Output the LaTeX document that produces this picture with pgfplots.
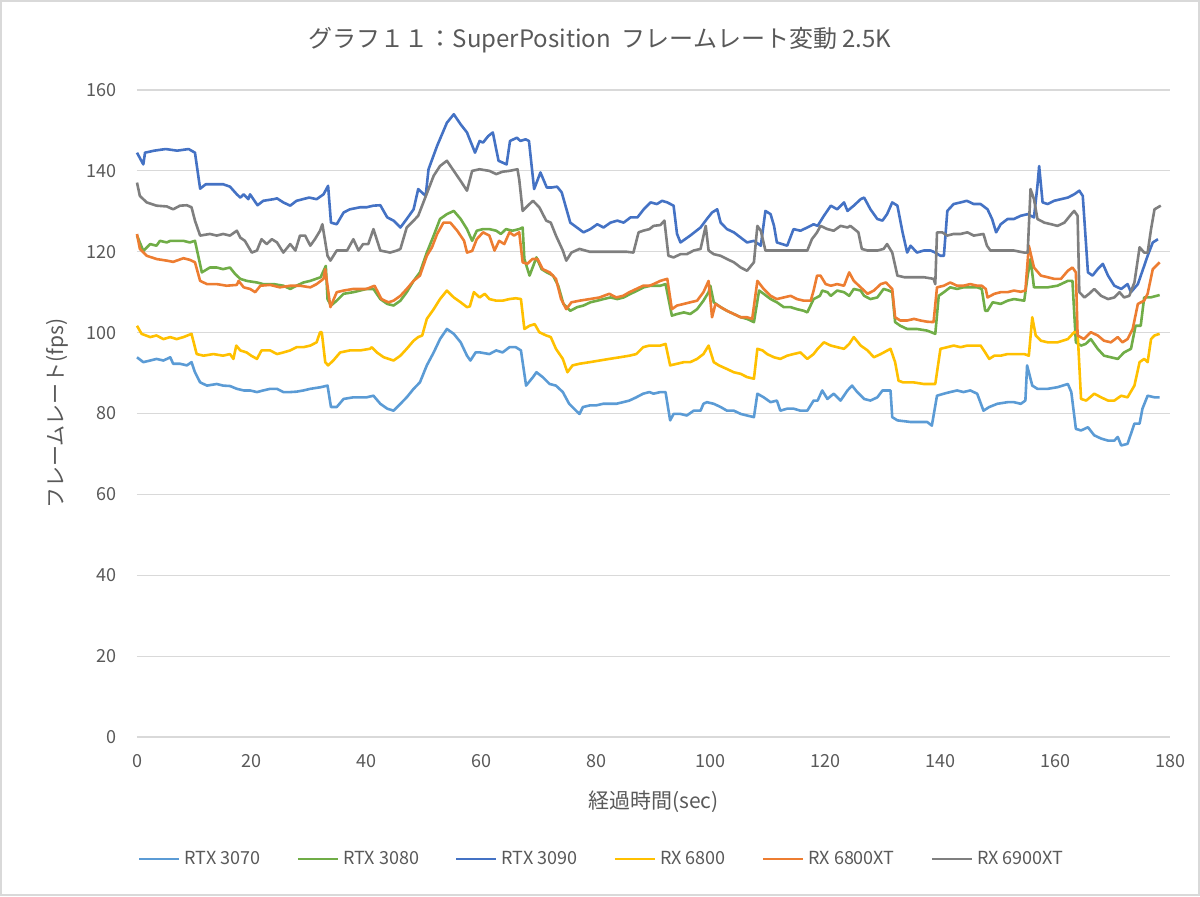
\documentclass[border=0pt]{standalone}
\usepackage{pgfplots}
\pgfplotsset{compat=1.18}
\usepackage{fontspec}
\setmainfont{Noto Sans CJK JP}
\definecolor{c3070}{HTML}{5B9BD5}
\definecolor{c3080}{HTML}{70AD47}
\definecolor{c3090}{HTML}{4472C4}
\definecolor{c6800}{HTML}{FFC000}
\definecolor{c6800xt}{HTML}{ED7D31}
\definecolor{c6900xt}{HTML}{7F7F7F}
\definecolor{txt}{HTML}{595959}
\definecolor{gridc}{HTML}{D9D9D9}
\begin{document}
\begin{tikzpicture}
\draw[gridc, line width=0.8pt] (0.4pt,0.4pt) rectangle (599.6pt,447.6pt);
\node[text=txt, font=\fontsize{12}{14}\selectfont] at (300pt,428pt) {グラフ１１：SuperPosition\ \ フレームレート変動 2.5K};
\begin{axis}[
  at={(68.5pt,79.5pt)}, anchor=south west, scale only axis,
  width=516.5pt, height=323.5pt,
  xmin=0, xmax=180, ymin=0, ymax=160,
  xtick={0,20,...,180}, ytick={0,20,...,160},
  ymajorgrids, major grid style={gridc, line width=0.6pt},
  axis line style={draw=none}, tick style={draw=none}, major tick length=0pt,
  /pgf/number format/assume math mode=true,
  ticklabel style={font=\fontsize{9}{11}\selectfont, text=txt},
  xticklabel style={yshift=-5pt},
  yticklabel style={xshift=-6.5pt},
  xlabel={経過時間(sec)}, ylabel={フレームレート(fps)},
  label style={font=\fontsize{10.5}{12}\selectfont, text=txt},
  xlabel style={at={(axis description cs:0.5,-0.1005)}, anchor=center},
  ylabel style={at={(axis description cs:-0.077,0.5)}, anchor=center, rotate=0},
  legend columns=6,
  legend style={at={(axis description cs:0.451,-0.1886)}, anchor=center, draw=none, fill=none,
    font=\fontsize{9}{11}\selectfont, text=txt,
    /tikz/every even column/.append style={column sep=16pt}},
  legend image code/.code={\draw[#1] (0pt,0pt) -- (20pt,0pt);},
  every axis plot/.append style={line width=1.3pt, line join=round},
  clip=false,
]
\addplot[c3070] coordinates {(0,93.9) (1.1,92.7) (2.3,93.1) (3.4,93.5) (4.6,93.1) (5.8,93.9) (6.3,92.3) (7.5,92.3) (8.7,91.9) (9.5,92.7) (10.1,90.2) (11,87.7) (12.2,86.9) (13.9,87.3) (15,86.9) (16.2,86.8) (17.4,86.1) (18.6,85.7) (19.7,85.7) (20.9,85.3) (22,85.7) (23.2,86.1) (24.4,86.1) (25.5,85.3) (26.7,85.3) (27.8,85.4) (29,85.7) (30.2,86.1) (32,86.5) (33.2,86.9) (33.8,81.6) (34.8,81.6) (36,83.6) (37.7,84.0) (40,84.0) (41.2,84.4) (42.4,82.4) (43.6,81.2) (44.7,80.7) (45.9,82.4) (47,84.0) (48.2,86.1) (49.3,87.7) (50.5,91.9) (51.7,95.1) (52.8,98.4) (54,100.9) (55.2,99.7) (56.4,97.6) (57.5,94.3) (58.1,93.1) (59,95.1) (59.8,95.1) (61.4,94.7) (62.6,95.6) (63.7,95.1) (64.9,96.4) (66,96.4) (66.9,95.6) (67.8,86.9) (69,89.0) (69.6,90.2) (70.7,89.0) (71.9,87.3) (73,86.9) (74.2,85.3) (75.3,82.4) (76.5,80.7) (77.1,79.9) (77.7,81.6) (78.9,82.0) (80,82.0) (81.2,82.4) (82.3,82.4) (83.5,82.4) (84.7,82.8) (85.8,83.2) (87,84.0) (88.2,84.9) (89.3,85.3) (90,84.9) (91.2,85.3) (92.1,85.3) (92.9,78.3) (93.5,79.9) (94.7,79.9) (95.8,79.5) (97,80.7) (98.2,80.7) (98.7,82.4) (99.3,82.8) (100.5,82.4) (101.7,81.6) (102.8,80.7) (104,80.7) (105.2,79.9) (106.3,79.5) (107.5,79.1) (108.1,84.9) (109.2,84.0) (110.4,82.8) (111.5,83.2) (112.1,80.7) (113.3,81.2) (114.4,81.2) (115.6,80.7) (116.8,80.7) (117.9,83.2) (118.6,83.2) (119.4,85.7) (120.3,83.6) (121.4,84.9) (122.6,83.2) (123.8,85.7) (124.6,86.9) (125.5,85.3) (126.7,83.6) (127.8,83.2) (129,84.0) (129.9,85.7) (131.3,85.7) (131.6,79.1) (132.5,78.3) (134.8,77.9) (136.5,77.9) (137.7,77.9) (138.5,77.0) (139.4,84.4) (140.6,84.9) (141.7,85.3) (142.9,85.7) (144,85.3) (145.2,85.7) (146.4,84.9) (147.5,80.7) (148.5,81.6) (149.9,82.4) (151.7,82.8) (152.8,82.8) (154,82.4) (154.8,83.2) (155.1,91.9) (156,86.9) (156.9,86.1) (158.7,86.1) (160.4,86.5) (162.2,87.3) (162.8,85.3) (163.6,76.2) (164.5,75.8) (165.7,76.6) (166.8,74.6) (168,73.8) (169.2,73.3) (170.3,73.3) (170.9,74.2) (171.5,72.1) (172.6,72.5) (173.8,77.5) (174.7,77.5) (175.2,81.2) (176.1,84.4) (177.3,84.0) (178.2,84.0)};
\addlegendentry{RTX 3070}
\addplot[c3080] coordinates {(0,124.0) (1.1,120.2) (2.3,121.9) (3.4,121.5) (4,122.7) (5.2,122.3) (5.8,122.7) (6.9,122.7) (8.1,122.7) (9.2,122.3) (10.1,122.7) (11.3,114.9) (12.7,116.1) (13.9,116.1) (15,115.7) (16.2,116.1) (17.1,114.5) (18,113.3) (19.1,112.8) (20.9,112.4) (22,112.0) (23.8,112.0) (25.5,111.6) (26.7,110.8) (27.8,111.6) (29,112.4) (30.2,112.8) (32,113.7) (32.9,116.5) (33.2,108.3) (33.8,106.7) (34.8,107.9) (36,109.6) (37.7,110.0) (40,110.8) (41.2,110.8) (42.4,108.3) (43.6,107.1) (44.7,106.7) (45.9,107.9) (47,110.0) (48.2,112.8) (49.3,114.9) (50.5,119.8) (51.7,124.0) (52.8,128.1) (54,129.3) (55.2,130.1) (56.4,128.1) (57.5,125.6) (58.4,122.7) (59.2,125.2) (60.3,125.6) (61.4,125.6) (62.6,125.2) (63.4,124.4) (64.3,125.6) (65.4,125.2) (66.6,125.6) (67.2,126.0) (67.5,118.2) (68.4,114.1) (69.6,118.6) (70.5,115.7) (71.4,114.9) (72.5,114.1) (73.4,111.6) (74.3,107.1) (75.5,105.4) (76.7,106.3) (77.8,106.7) (79,107.5) (80.2,107.9) (81.3,108.3) (82.5,108.7) (83.7,108.3) (84.8,108.7) (86,109.6) (87.2,110.4) (88.3,111.2) (89.5,111.6) (90,111.6) (91.2,111.6) (92.1,112.0) (93.2,104.2) (94.1,104.6) (95.3,105.0) (96.4,104.6) (97.6,105.8) (98.7,107.9) (99.6,110.0) (99.9,111.6) (100.5,107.5) (101.7,106.3) (102.8,105.4) (104,104.6) (105.2,103.8) (106.3,103.4) (107.5,102.6) (108.4,110.4) (109.2,109.6) (110.4,108.3) (111.5,107.5) (112.7,106.3) (113.9,106.3) (115,105.8) (116.2,105.4) (116.8,105.0) (117.9,108.3) (119,109.1) (119.4,110.4) (120.3,110.0) (120.9,109.1) (122,110.4) (123.2,110.0) (124.1,109.1) (124.9,110.8) (126.1,110.4) (126.7,109.1) (127.8,108.3) (129,108.7) (130.1,110.8) (131,110.4) (131.6,110.0) (132.1,102.6) (133,101.7) (134.2,100.9) (135.9,100.9) (137.7,100.5) (139.1,99.7) (139.7,109.1) (140.6,110.0) (141.7,111.2) (142.9,110.8) (144,111.2) (145.2,111.2) (146.4,111.2) (147.2,110.8) (147.8,105.4) (148.2,105.4) (149.1,107.5) (150.5,107.1) (151.7,107.9) (152.8,108.3) (154.6,107.9) (155.2,114.1) (155.7,118.2) (156.3,111.2) (157.5,111.2) (158.7,111.2) (160.4,111.6) (162.2,112.8) (163,112.8) (163.6,97.6) (164.5,96.8) (165.3,97.2) (166.2,98.4) (167.4,96.0) (168.5,94.3) (169.7,93.9) (170.9,93.5) (172,95.1) (173.2,96.0) (174,101.7) (174.9,101.7) (175.5,108.7) (176.6,108.7) (178.2,109.3)};
\addlegendentry{RTX 3080}
\addplot[c3090] coordinates {(0,144.5) (1.1,141.6) (1.4,144.5) (3,145.0) (5,145.4) (7,145.0) (9,145.4) (10.1,144.5) (11,135.6) (12,136.7) (15,136.7) (16.2,136.1) (17.4,134.2) (18,133.4) (18.6,134.2) (19.4,133.0) (19.7,134.2) (21,131.5) (22,132.6) (23.8,133.0) (24.4,133.2) (25.5,132.2) (26.7,131.4) (27.8,132.6) (30,133.4) (31.3,133.0) (32.5,134.2) (33.3,136.3) (33.8,127.2) (34.8,126.8) (36,129.7) (37.1,130.5) (38.9,131.0) (40,131.0) (41.2,131.4) (42.4,131.5) (43.6,128.5) (44.7,127.7) (45.9,126.0) (47,128.1) (48.2,130.5) (49,135.5) (50.3,133.8) (50.8,140.4) (52.3,146.2) (54,151.9) (55.2,154.0) (56.4,151.5) (57.5,149.5) (58.9,144.5) (59.7,147.4) (60.3,147.0) (61.2,148.6) (62,149.5) (63,142.5) (64.4,141.6) (65,147.4) (66.2,148.2) (66.8,147.4) (67.7,147.8) (68.3,147.4) (69.2,135.5) (70.3,139.6) (71.4,135.9) (72.3,135.9) (73.2,136.1) (74,134.7) (75.5,127.2) (77.8,124.8) (79,125.6) (80.2,126.8) (81.3,126.0) (82.5,127.2) (83.7,127.7) (84.8,127.2) (86,128.5) (87.2,128.5) (88.3,130.5) (89.5,132.2) (90.6,131.8) (91.5,132.6) (92.4,132.2) (93.5,131.4) (94.1,124.4) (94.7,122.3) (96.4,124.0) (98.2,126.0) (99.3,128.1) (100.2,129.7) (101.1,130.5) (101.7,127.2) (102.8,125.6) (104,124.8) (105.2,123.5) (106.3,122.3) (107.5,122.7) (108.7,121.5) (109.5,130.1) (110.4,129.3) (111,126.4) (111.5,122.3) (113.3,121.5) (114.4,125.6) (115.6,125.2) (116.8,126.0) (117.9,126.8) (118.6,126.4) (119.7,128.9) (120.9,131.4) (122,130.5) (123.2,132.2) (123.8,130.1) (124.9,131.4) (126.1,133.0) (126.7,133.4) (127.8,130.5) (129,128.1) (129.9,127.7) (130.7,129.3) (131.6,132.2) (132.5,131.4) (133.4,124.8) (134.2,119.8) (134.8,121.5) (135.9,119.8) (137.1,120.3) (138.3,120.3) (139.1,119.8) (140,119.0) (140.6,119.0) (141.2,130.1) (142.3,131.8) (143.5,132.2) (144.6,132.6) (145.8,131.8) (147,131.8) (148.2,130.5) (149,128.1) (149.7,124.8) (150.5,126.8) (151.7,128.1) (152.8,128.1) (154,128.9) (155.2,129.3) (156.3,128.5) (156.9,136.3) (157.2,141.2) (157.8,132.2) (158.7,131.8) (159.8,132.6) (161,133.0) (162.2,133.4) (163.3,134.2) (164.2,135.1) (164.8,133.8) (165.7,114.9) (166.5,114.1) (167.4,115.7) (168.3,117.0) (169.2,114.1) (170.3,111.6) (171.5,110.8) (172.6,112.0) (173.2,110.0) (174.4,112.0) (175.5,116.5) (176.1,119.0) (177,122.3) (177.9,123.1)};
\addlegendentry{RTX 3090}
\addplot[c6800] coordinates {(0,101.7) (0.8,99.7) (2.3,98.9) (3.4,99.3) (4.6,98.4) (5.8,98.9) (6.9,98.4) (8.1,98.9) (9.5,99.7) (10.4,94.7) (11.6,94.3) (13.3,94.7) (15,94.3) (16.2,94.7) (16.8,93.5) (17.3,96.8) (18,95.6) (19.1,95.1) (19.9,94.3) (20.9,93.5) (21.7,95.6) (23.2,95.6) (24.4,94.7) (25.5,95.1) (26.7,95.6) (27.8,96.4) (29,96.4) (30.2,96.8) (31.3,97.6) (31.9,100.1) (32.2,100.1) (32.8,92.7) (33.3,91.9) (34.2,93.1) (35.4,95.1) (37.1,95.6) (38.9,95.6) (40.6,96.0) (40.9,96.4) (41.8,95.1) (43,93.9) (44.7,93.1) (45.9,94.3) (47,96.0) (48.2,98.0) (49,98.9) (49.7,99.3) (50.5,103.4) (51.7,105.8) (52.8,108.3) (54,110.4) (55.2,108.7) (56.4,107.5) (57.5,106.3) (58.0,106.5) (58.7,110.0) (59.7,108.7) (60.6,109.6) (61.4,108.3) (62.6,107.9) (63.7,107.9) (64.9,108.3) (66,108.5) (66.9,108.3) (67.5,100.9) (68.4,101.7) (69.3,102.1) (70.1,100.1) (71.3,99.3) (72.1,98.9) (73,96.0) (74.2,93.5) (75,90.2) (75.9,91.9) (77.1,92.3) (78.9,92.7) (80.6,93.1) (82.3,93.5) (84.1,93.9) (85.8,94.3) (87,94.7) (88.2,96.4) (89.3,96.8) (90,96.8) (91.2,96.8) (92.1,97.2) (92.9,91.9) (94.1,92.3) (95.3,92.7) (96.4,92.7) (97.6,93.5) (98.7,94.7) (99.6,96.8) (100.5,92.7) (101.4,91.9) (102.8,91.0) (104,90.2) (105.2,89.8) (106.3,89.0) (107.5,88.6) (108.1,96.0) (109,95.6) (109.8,94.7) (111,93.9) (112.1,93.5) (113.3,94.3) (114.4,94.7) (115.6,95.1) (116.8,93.5) (117.9,94.7) (118.6,96.0) (119.7,97.6) (120.9,96.8) (122,96.4) (123.2,96.0) (124.1,97.2) (124.9,98.9) (126.1,96.8) (127.3,95.6) (128.4,93.9) (129.6,94.7) (131.3,96.0) (132.1,92.7) (132.7,88.1) (133.5,87.7) (135.3,87.7) (137.1,87.3) (138.5,87.3) (139.1,87.3) (140,96.0) (141.2,96.4) (142.3,96.8) (143.5,96.4) (144.7,96.8) (145.8,96.8) (147,96.8) (147.8,95.1) (148.5,93.5) (149.4,94.3) (150.5,94.3) (151.7,94.7) (152.8,94.7) (154.6,94.7) (155.4,94.3) (156,103.8) (156.6,99.3) (157.5,98.0) (158.7,97.6) (160.4,97.6) (162.2,98.4) (163.3,100.1) (163.9,100.1) (164.5,83.6) (165.4,83.2) (166.8,84.9) (168,84.0) (169.2,83.2) (170.3,83.2) (171.5,84.4) (172.6,84.0) (173.8,86.9) (174.7,92.7) (175.5,93.5) (176.1,92.7) (176.7,98.4) (177.3,99.3) (178.2,99.7)};
\addlegendentry{RX 6800}
\addplot[c6800xt] coordinates {(0,124.4) (0.5,120.7) (1.7,119.0) (3.4,118.2) (5.2,117.8) (6.3,117.5) (8.1,118.4) (9.2,118.0) (10.1,117.4) (11,112.8) (12.2,112.0) (13.9,112.0) (15.6,111.6) (17.4,111.8) (17.7,112.8) (18.6,111.2) (19.7,110.8) (20.6,110.0) (21.5,111.6) (23.2,111.8) (24.9,111.2) (26.7,111.6) (28.4,111.6) (30.2,111.2) (31.3,112.0) (32.5,113.3) (32.8,115.7) (33.7,106.3) (34.8,110.0) (36,110.4) (37.7,110.8) (40,110.8) (41.4,111.6) (42.6,108.3) (43.8,107.5) (44.7,107.9) (45.9,109.1) (47,110.8) (48.2,112.8) (49.3,114.1) (50.5,119.0) (51.4,121.1) (52.3,124.4) (53.4,127.2) (54.6,127.2) (55.8,125.2) (57,122.7) (57.5,119.8) (58.4,120.2) (59.2,123.1) (60.3,124.8) (61.4,124.0) (62.3,120.3) (63.1,122.7) (64,121.9) (64.9,124.8) (65.7,124.0) (66.6,124.8) (67.2,117.4) (68,117.0) (68.9,118.2) (69.8,118.2) (70.7,115.7) (71.9,114.9) (73,113.3) (73.9,108.3) (74.8,105.8) (75.7,107.5) (77.1,107.9) (78.9,108.3) (80.6,108.7) (82.3,109.6) (83.5,108.7) (84.7,109.1) (85.8,110.0) (87,110.8) (88.2,111.6) (89.3,111.6) (90,112.0) (91.2,112.8) (92.4,113.3) (93.2,105.8) (94.1,106.7) (95.3,107.1) (96.4,107.5) (97.6,107.9) (98.7,110.0) (99.6,112.8) (100.2,103.8) (100.8,107.1) (101.7,106.3) (102.8,105.4) (104,104.6) (105.2,103.8) (106.3,103.8) (107.2,103.4) (108.1,112.8) (109.2,110.8) (110.4,109.1) (111.5,108.3) (112.7,108.7) (113.9,109.1) (115,108.3) (116.2,107.9) (117.4,107.9) (117.9,110.4) (118.5,114.1) (119.1,114.1) (120,112.0) (120.9,111.6) (122,112.0) (123.2,111.6) (124.1,114.9) (124.9,112.8) (126.1,111.2) (127.3,109.6) (128.4,110.4) (129.6,112.0) (130.5,112.4) (131.6,110.8) (132.1,103.8) (133,103.0) (134.2,103.0) (135.4,103.4) (136.5,103.0) (137.7,102.7) (138.8,102.6) (139.4,111.2) (140.6,111.6) (141.7,112.4) (142.9,111.6) (144,111.6) (145.2,112.0) (146.4,111.6) (147.2,111.6) (147.9,110.8) (148.2,108.7) (149.4,109.6) (150.5,110.0) (151.7,110.0) (152.8,110.4) (154,110.1) (154.8,110.4) (155.4,121.5) (156.3,116.1) (157.5,114.1) (158.7,113.7) (159.8,113.3) (161,113.3) (162.2,115.3) (163,116.1) (163.6,114.9) (163.9,99.3) (165,98.4) (166.2,100.1) (167.4,99.3) (168.5,98.0) (169.7,97.6) (170.9,98.9) (171.7,97.6) (172.6,98.4) (173.5,100.9) (174.4,107.1) (175.5,107.9) (176.1,109.6) (177,115.7) (178.2,117.4)};
\addlegendentry{RX 6800XT}
\addplot[c6900xt] coordinates {(0,137.1) (0.5,133.8) (1.7,132.2) (3.4,131.4) (5.2,131.2) (6.3,130.5) (7.5,131.4) (8.7,131.5) (9.5,131.0) (10.1,127.7) (11,124.0) (12.7,124.4) (13.9,124.0) (15,124.4) (16.2,124.0) (17.4,125.2) (18,123.5) (18.8,122.7) (20,119.8) (20.9,120.3) (21.7,123.1) (22.6,121.9) (23.5,123.1) (24.4,122.3) (25.5,119.8) (26.7,121.9) (27.6,120.3) (28.4,124.0) (29.3,124.0) (30.2,121.5) (31,123.1) (31.9,125.2) (32.3,126.8) (33.2,119.0) (33.7,117.8) (34.8,120.3) (36.6,120.3) (37.7,123.1) (38.6,120.3) (39.4,121.9) (40.3,121.9) (41.2,125.6) (42.4,120.3) (44.1,119.8) (45.3,120.3) (45.9,120.7) (47,126.0) (48.2,127.7) (49,128.9) (49.9,132.2) (51.7,138.8) (52.8,141.2) (54,142.5) (55.2,140.0) (56.4,137.5) (57.5,135.1) (58.4,140.0) (59.7,140.4) (61.4,140.0) (62.6,139.2) (63.7,139.8) (64.9,140.0) (66.3,140.4) (66.6,137.9) (67.2,130.1) (68.4,131.8) (69,132.6) (70.1,131.0) (71.3,127.7) (72.1,127.2) (73,124.0) (74.2,120.3) (74.8,117.8) (75.7,119.8) (77.1,120.7) (78.9,120.0) (81.2,120.0) (83.5,120.0) (85.3,120.0) (86.5,119.8) (87.4,124.8) (88.2,125.2) (89.3,125.6) (90,126.4) (91.2,126.6) (91.9,127.7) (92.6,119.0) (93.5,118.6) (94.7,119.4) (95.8,119.4) (97,120.3) (98.2,120.7) (99.1,126.4) (99.6,120.3) (100.5,119.4) (101.7,119.0) (102.8,118.2) (104,117.4) (105.2,116.1) (106.3,115.3) (107.5,117.4) (108.1,126.4) (108.7,125.2) (109.5,120.3) (111,120.3) (112.7,120.3) (114.4,120.3) (116.8,120.3) (117.6,123.1) (118.5,124.8) (119.1,126.4) (120.3,125.6) (121.4,125.2) (122.6,126.4) (123.8,126.0) (124.3,126.4) (125.7,124.8) (126.3,120.7) (127.3,120.3) (129,120.3) (130.1,120.7) (130.7,121.9) (131.6,119.8) (132.5,114.1) (133.7,113.7) (135.4,113.7) (137.1,113.7) (138.8,113.3) (139.1,112.0) (139.4,124.8) (140.3,124.8) (141.2,124.0) (142.3,124.4) (143.5,124.4) (144.7,124.8) (145.8,124.0) (147.5,124.4) (148.1,121.5) (148.7,120.3) (149.4,120.3) (151.1,120.3) (152.8,120.3) (154.6,119.8) (155.2,119.8) (155.7,135.5) (156.3,133.0) (156.9,128.1) (158.1,127.2) (159.3,126.8) (160.4,126.4) (161.6,127.2) (162.8,129.3) (163.3,130.1) (163.9,128.9) (164.2,110.0) (165.1,108.7) (165.9,109.6) (166.8,110.8) (168,109.1) (169.2,108.3) (170.3,108.7) (171.2,110.0) (172,108.7) (172.9,109.1) (173.8,112.4) (174.7,121.1) (175.5,119.8) (176.1,119.8) (176.7,125.6) (177.3,130.5) (178.4,131.4)};
\addlegendentry{RX 6900XT}
\end{axis}
\end{tikzpicture}
\end{document}
